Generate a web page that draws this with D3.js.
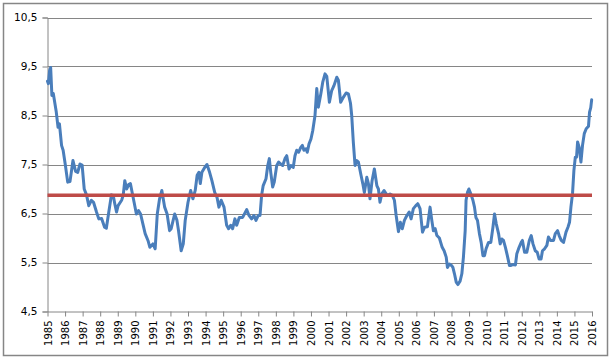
<!DOCTYPE html>
<html><head><meta charset="utf-8">
<script src="https://cdn.jsdelivr.net/npm/d3@7/dist/d3.min.js"></script>
<style>html,body{margin:0;padding:0;background:#fff;}svg{display:block;}</style>
</head><body>
<svg id="chart" width="611" height="360"></svg>
<script>
const time = [1985.00,1985.05,1985.12,1985.18,1985.25,1985.33,1985.5,1985.6,1985.68,1985.8,1985.89,1986.02,1986.15,1986.28,1986.45,1986.6,1986.72,1986.85,1986.97,1987.09,1987.22,1987.35,1987.5,1987.62,1987.79,1987.92,1988.08,1988.25,1988.35,1988.49,1988.64,1988.74,1988.83,1988.93,1989.02,1989.22,1989.31,1989.40,1989.51,1989.62,1989.72,1989.82,1989.93,1990.06,1990.18,1990.3,1990.43,1990.56,1990.72,1990.83,1991.0,1991.13,1991.25,1991.38,1991.51,1991.67,1991.81,1991.95,1992.04,1992.24,1992.37,1992.46,1992.61,1992.73,1992.84,1993.0,1993.15,1993.28,1993.41,1993.52,1993.62,1993.7,1993.79,1993.95,1994.08,1994.23,1994.36,1994.52,1994.65,1994.76,1994.89,1995.05,1995.2,1995.31,1995.43,1995.54,1995.67,1995.77,1995.92,1996.11,1996.34,1996.47,1996.62,1996.75,1996.87,1997.0,1997.1,1997.19,1997.28,1997.44,1997.54,1997.63,1997.71,1997.82,1997.91,1998.05,1998.16,1998.28,1998.39,1998.52,1998.62,1998.75,1998.86,1998.99,1999.09,1999.19,1999.3,1999.42,1999.51,1999.6,1999.72,1999.79,1999.89,2000.0,2000.1,2000.23,2000.33,2000.42,2000.56,2000.67,2000.8,2000.9,2001.05,2001.18,2001.31,2001.47,2001.56,2001.69,2001.84,2002.0,2002.13,2002.25,2002.32,2002.41,2002.51,2002.61,2002.7,2002.85,2002.95,2003.04,2003.18,2003.27,2003.36,2003.48,2003.61,2003.75,2003.84,2003.93,2004.03,2004.16,2004.28,2004.37,2004.5,2004.63,2004.75,2004.85,2004.98,2005.09,2005.2,2005.32,2005.46,2005.59,2005.7,2005.83,2005.97,2006.08,2006.21,2006.35,2006.47,2006.63,2006.78,2006.88,2006.97,2007.07,2007.17,2007.31,2007.47,2007.58,2007.7,2007.77,2007.88,2008.0,2008.08,2008.17,2008.27,2008.36,2008.49,2008.59,2008.68,2008.78,2008.83,2008.91,2008.99,2009.1,2009.22,2009.31,2009.39,2009.48,2009.59,2009.69,2009.79,2009.88,2009.97,2010.11,2010.24,2010.36,2010.45,2010.55,2010.68,2010.77,2010.87,2010.96,2011.07,2011.18,2011.3,2011.39,2011.53,2011.64,2011.72,2011.85,2011.97,2012.04,2012.16,2012.29,2012.43,2012.54,2012.64,2012.77,2012.88,2012.99,2013.1,2013.18,2013.3,2013.43,2013.52,2013.64,2013.81,2013.91,2014.04,2014.13,2014.25,2014.38,2014.52,2014.63,2014.72,2014.8,2014.89,2014.97,2015.05,2015.12,2015.18,2015.27,2015.37,2015.46,2015.56,2015.67,2015.8,2015.86,2015.93,2015.98];
const rate = [9.2,9.15,9.42,9.48,8.91,8.95,8.57,8.26,8.33,7.89,7.79,7.48,7.14,7.15,7.58,7.36,7.34,7.51,7.49,7.0,6.88,6.66,6.77,6.73,6.53,6.39,6.40,6.22,6.2,6.53,6.88,6.87,6.70,6.53,6.66,6.77,6.87,7.17,7.0,7.09,7.11,6.93,6.73,6.49,6.56,6.49,6.29,6.09,5.95,5.81,5.88,5.78,6.49,6.80,6.97,6.63,6.49,6.15,6.19,6.49,6.36,6.15,5.74,5.88,6.36,6.73,6.97,6.80,6.97,7.28,7.34,7.11,7.34,7.44,7.5,7.34,7.17,6.93,6.83,6.63,6.77,6.63,6.26,6.19,6.26,6.19,6.39,6.26,6.42,6.42,6.58,6.46,6.39,6.46,6.36,6.46,6.46,6.87,7.07,7.21,7.48,7.62,7.34,7.04,7.14,7.48,7.55,7.51,7.48,7.62,7.68,7.41,7.48,7.44,7.68,7.79,7.75,7.85,7.89,7.79,7.82,7.75,7.92,8.02,8.19,8.5,9.05,8.67,8.94,9.18,9.35,9.30,8.77,9.01,9.11,9.28,9.22,8.77,8.87,8.96,8.94,8.75,8.5,7.96,7.48,7.58,7.55,7.28,7.11,6.93,7.24,7.11,6.80,7.17,7.41,7.07,7.0,6.73,6.90,6.97,6.90,6.87,6.90,6.87,6.77,6.46,6.13,6.32,6.19,6.36,6.46,6.53,6.39,6.60,6.66,6.70,6.60,6.12,6.22,6.23,6.63,6.36,6.15,6.19,6.05,6.0,5.81,5.74,5.61,5.40,5.47,5.44,5.40,5.27,5.10,5.05,5.12,5.27,5.61,6.15,6.77,6.93,7.0,6.90,6.77,6.63,6.42,6.36,6.09,5.91,5.64,5.64,5.78,5.91,5.91,6.22,6.49,6.29,6.09,5.88,5.98,5.95,5.81,5.64,5.44,5.44,5.46,5.45,5.68,5.81,5.91,5.95,5.71,5.71,5.95,6.05,5.88,5.74,5.71,5.57,5.57,5.74,5.78,5.85,6.02,5.95,5.95,6.09,6.15,6.05,5.95,5.91,6.12,6.22,6.32,6.63,6.90,7.38,7.65,7.65,7.96,7.85,7.55,7.89,8.13,8.23,8.28,8.57,8.66,8.82];
const averageRate = 6.87;
const yTicks = [4.5,5.5,6.5,7.5,8.5,9.5,10.5];
const xTicks = d3.range(1985, 2017);

const svg = d3.select('#chart');
const grey = '#868686';
const x = d3.scaleLinear().domain([1985, 2016]).range([47.5, 592]);
const y = d3.scaleLinear().domain([4.5, 10.5]).range([311.5, 17.5]);
const fmt = v => String(v).replace('.', ',');

// outer border
svg.append('rect').attr('x', 3.5).attr('y', 3.5).attr('width', 604).attr('height', 352)
  .attr('fill', 'none').attr('stroke', grey).attr('stroke-width', 1.5);

// gridlines
svg.append('g').selectAll('line').data(yTicks.slice(1)).join('line')
  .attr('x1', x(1985)).attr('x2', x(2016))
  .attr('y1', d => Math.round(y(d)) + 0.5).attr('y2', d => Math.round(y(d)) + 0.5)
  .attr('stroke', grey).attr('stroke-width', 1);

// y axis
const yAxis = svg.append('g').attr('transform', `translate(${x(1985)},0)`)
  .call(d3.axisLeft(y).tickValues(yTicks).tickFormat(fmt).tickSize(5).tickPadding(5));
yAxis.select('.domain').attr('stroke', grey);
yAxis.selectAll('.tick line').attr('stroke', grey);
yAxis.selectAll('.tick text').attr('fill', '#000').style('font-family', 'DejaVu Sans, Verdana, sans-serif').style('font-size', '10.5px');

// x axis
const xAxis = svg.append('g').attr('transform', `translate(0,${y(4.5)})`)
  .call(d3.axisBottom(x).tickValues(xTicks).tickFormat(d3.format('d')).tickSize(5).tickSizeOuter(0));
xAxis.select('.domain').attr('stroke', grey);
xAxis.selectAll('.tick line').attr('stroke', grey);
xAxis.selectAll('.tick text')
  .attr('fill', '#000')
  .style('font-family', 'DejaVu Sans, Verdana, sans-serif').style('font-size', '10px')
  .attr('transform', 'rotate(-90)')
  .attr('text-anchor', 'end')
  .attr('x', -9).attr('y', 0).attr('dy', '0.35em');

// data line
const pts = time.map((t, i) => [t, rate[i]]);
svg.append('path').datum(pts)
  .attr('d', d3.line().x(d => x(d[0])).y(d => y(d[1])))
  .attr('fill', 'none').attr('stroke', '#4A7EBB').attr('stroke-width', 3)
  .attr('stroke-linejoin', 'round').attr('stroke-linecap', 'round');

// average line
svg.append('line')
  .attr('x1', x(1985)).attr('x2', x(2016))
  .attr('y1', y(averageRate)).attr('y2', y(averageRate))
  .attr('stroke', '#BE4B48').attr('stroke-width', 3.5);
</script>
</body></html>
